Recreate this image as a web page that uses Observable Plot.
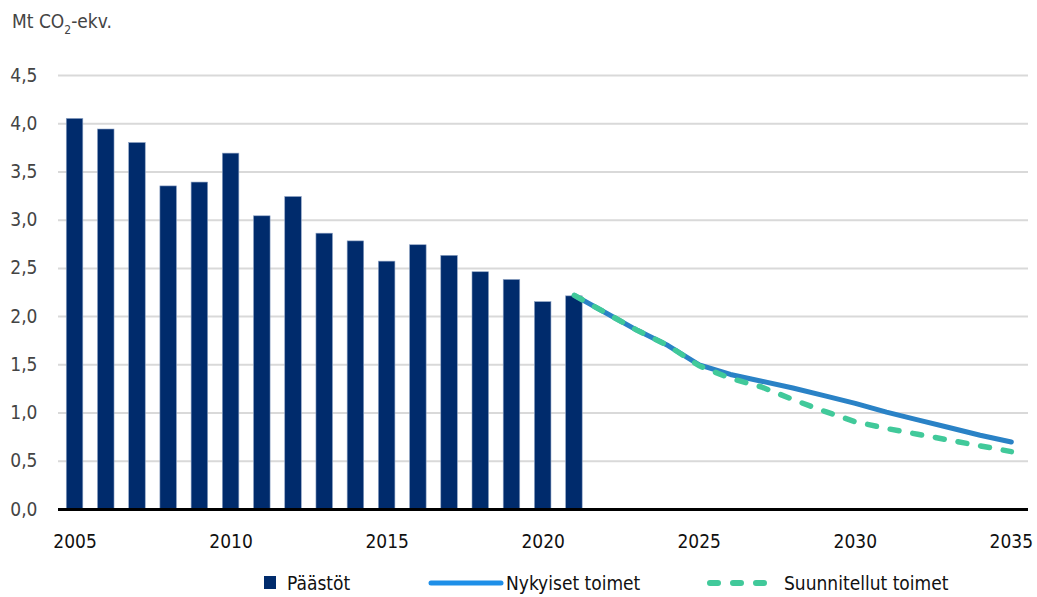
<!DOCTYPE html>
<html>
<head>
<meta charset="utf-8">
<script src="https://cdn.jsdelivr.net/npm/d3@7"></script>
<script src="https://cdn.jsdelivr.net/npm/@observablehq/plot@0.6"></script>
<style>
  body { margin: 0; background: #fff; font-family: "DejaVu Sans Condensed", "DejaVu Sans", sans-serif; font-stretch: condensed; }
  svg text { font-stretch: condensed; }
  #wrap { position: relative; width: 1037px; height: 597px; }
  #legend { position: absolute; left: 0; top: 560px; width: 1037px; height: 37px; font-size: 19px; color: #111; }
  .item { position: absolute; top: 12px; display: flex; align-items: center; height: 22px; }
</style>
</head>
<body>
<div id="wrap">
  <div id="chart"></div>
  <div id="legend">
    <div class="item" style="left:264px"><svg width="14" height="14" style="margin-right:9px"><rect width="12" height="13" fill="#002B6C"/></svg>Päästöt</div>
    <div class="item" style="left:428px"><svg width="76" height="10" style="margin-right:2px"><line x1="3" y1="5" x2="73" y2="5" stroke="#1E8FE8" stroke-width="5" stroke-linecap="round"/></svg>Nykyiset toimet</div>
    <div class="item" style="left:706px"><svg width="72" height="10" style="margin-right:6px"><line x1="4" y1="5" x2="68" y2="5" stroke="#41C99A" stroke-width="6" stroke-linecap="round" stroke-dasharray="8 15"/></svg>Suunnitellut toimet</div>
  </div>
</div>
<script>
// Historical emissions (Päästöt)
const histYears = [2005,2006,2007,2008,2009,2010,2011,2012,2013,2014,2015,2016,2017,2018,2019,2020,2021];
const histValues = [4.05,3.94,3.80,3.35,3.39,3.69,3.04,3.24,2.86,2.78,2.57,2.74,2.63,2.46,2.38,2.15,2.21];

// Projections
const projYears = [2021,2022,2023,2024,2025,2026,2027,2028,2029,2030,2031,2032,2033,2034,2035];
const currentMeasures = [2.22,2.04,1.86,1.70,1.50,1.40,1.33,1.26,1.18,1.10,1.01,0.93,0.85,0.77,0.70]; // Nykyiset toimet
const plannedMeasures = [2.22,2.04,1.86,1.70,1.49,1.36,1.27,1.14,1.02,0.91,0.84,0.78,0.72,0.66,0.60]; // Suunnitellut toimet

const xTicks = [2005,2010,2015,2020,2025,2030,2035];
const yTicks = [0,0.5,1,1.5,2,2.5,3,3.5,4,4.5];

const hist = histYears.map((y,i) => ({year: y, value: histValues[i]}));
const cur = projYears.map((y,i) => ({year: y, value: currentMeasures[i]}));
const plan = projYears.map((y,i) => ({year: y, value: plannedMeasures[i]}));

const halfBar = 0.265;
const fmt = d => d.toFixed(1).replace(".", ",");
const FONT = '"DejaVu Sans Condensed", "DejaVu Sans", sans-serif';

const chart = Plot.plot({
  width: 1037,
  height: 560,
  marginTop: 75,
  marginBottom: 51,
  marginLeft: 58,
  marginRight: 9,
  style: {fontFamily: FONT, fontSize: "19px", color: "#111", background: "#fff"},
  x: {type: "linear", domain: [2004.47, 2035.55], ticks: xTicks, tickFormat: d => String(d), label: null},
  y: {domain: [0, 4.5], ticks: yTicks, tickFormat: fmt, label: null},
  marks: [
    Plot.gridY(yTicks, {stroke: "#D9D9D9", strokeOpacity: 1, strokeWidth: 2}),
    Plot.axisY({ticks: yTicks, tickFormat: fmt, tickSize: 0, tickPadding: 21, label: null, fill: "#444"}),
    Plot.axisX({ticks: xTicks, tickFormat: d => String(d), tickSize: 0, tickPadding: 25, label: null, fill: "#111"}),
    Plot.rectY(hist, {x1: d => d.year - halfBar, x2: d => d.year + halfBar, y1: 0, y2: "value", fill: "#002B6C", stroke: "#8DA2C4", strokeWidth: 0.6}),
    Plot.ruleY([0], {stroke: "#000", strokeWidth: 3}),
    Plot.line(cur, {x: "year", y: "value", stroke: "#2A82C6", strokeWidth: 5, strokeLinejoin: "round", strokeLinecap: "round"}),
    Plot.line(plan, {x: "year", y: "value", stroke: "#41C99A", strokeWidth: 5.5, strokeLinecap: "round", strokeDasharray: "9 14"})
  ]
});

const svg = d3.select(chart);
const t = svg.append("text").attr("x", 12).attr("y", 28).attr("font-size", 19).attr("fill", "#444")
  .attr("text-anchor", "start")
  .attr("font-family", FONT);
t.append("tspan").text("Mt CO");
t.append("tspan").attr("font-size", 12).attr("dy", 6).text("2");
t.append("tspan").attr("dy", -6).text("-ekv.");

document.getElementById("chart").appendChild(chart);
</script>
</body>
</html>
